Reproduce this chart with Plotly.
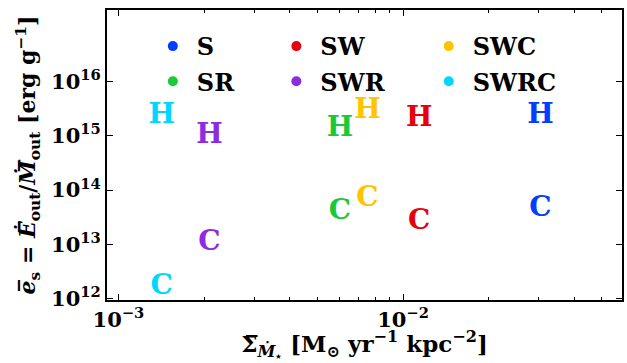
import plotly.graph_objects as go
import numpy as np

# ---- data ----
sims = ["S", "SW", "SWC", "SR", "SWR", "SWRC"]
colors = ["#023eff", "#e8000b", "#ffc400", "#1ac938", "#8b2be2", "#00d7ff"]
sigma_sfr = [3.04e-2, 1.14e-2, 7.5e-3, 6.0e-3, 2.09e-3, 1.42e-3]
es_hot = [2.33e15, 2.03e15, 2.89e15, 1.33e15, 1.0e15, 2.33e15]
es_cold = [4.47e13, 2.54e13, 6.83e13, 3.88e13, 1.04e13, 1.66e12]
legend_ids = ["legend", "legend2", "legend3", "legend", "legend2", "legend3"]

ytickvals = [1e12, 1e13, 1e14, 1e15, 1e16]
yticktext = ["10<sup>12</sup>", "10<sup>13</sup>", "10<sup>14</sup>", "10<sup>15</sup>", "10<sup>16</sup>"]
xtickvals = [1e-3, 1e-2]
xticktext = ["10<sup>−3</sup>", "10<sup>−2</sup>"]
xminor = [2e-3, 3e-3, 4e-3, 5e-3, 6e-3, 7e-3, 8e-3, 9e-3, 2e-2, 3e-2, 4e-2, 5e-2]

FONT = "DejaVu Serif"

fig = go.Figure()
for i, s in enumerate(sims):
    fig.add_trace(go.Scatter(
        x=[sigma_sfr[i], sigma_sfr[i]], y=[es_hot[i], es_cold[i]],
        mode="text", text=["H", "C"],
        textfont=dict(family=FONT, size=28, color=colors[i], weight="bold"),
        textposition="middle center", showlegend=False, hoverinfo="skip"))
    fig.add_trace(go.Scatter(
        x=[None], y=[None], mode="markers", name=s,
        marker=dict(size=10, color=colors[i]),
        legend=legend_ids[i], legendgroup=s, showlegend=True))

W, H = 627, 363
L, R, T, B = 107, 3, 10, 63
pw = W - L - R
ph = H - T - B

def px2x(px):
    return (px - L) / pw

def px2y(py):
    return 1 - (py - T) / ph

legfont = dict(family=FONT, size=24, color="black", weight="bold")
common_leg = dict(bgcolor="rgba(0,0,0,0)", borderwidth=0, font=legfont,
                  xanchor="left", yanchor="top", tracegroupgap=1,
                  itemwidth=38)

fig.update_layout(
    width=W, height=H,
    margin=dict(l=L, r=R, t=T, b=B),
    paper_bgcolor="white", plot_bgcolor="white",
    font=dict(family=FONT, color="black"),
    legend=dict(x=px2x(149), y=px2y(24), **common_leg),
    legend2=dict(x=px2x(273), y=px2y(24), **common_leg),
    legend3=dict(x=px2x(426), y=px2y(24), **common_leg),
    xaxis=dict(
        type="log", range=[np.log10(9.12e-4), np.log10(5.88e-2)],
        showline=True, linewidth=2, linecolor="black", mirror="ticks",
        ticks="inside", ticklen=6, tickwidth=1.2, tickcolor="black",
        tickvals=xtickvals, ticktext=xticktext,
        tickfont=dict(family=FONT, size=21, weight="bold"),
        minor=dict(tickvals=xminor, ticks="inside", ticklen=3, tickwidth=1, tickcolor="black"),
        showgrid=False, zeroline=False,
        title=dict(text="<b>Σ̅<sub><i>Ṁ</i><sub>⋆</sub></sub> [M<sub>⊙</sub> yr<sup>−1</sup> kpc<sup>−2</sup>]</b>",
                   font=dict(family=FONT, size=23), standoff=5),
    ),
    yaxis=dict(
        type="log", range=[11.975, 17.315],
        showline=True, linewidth=2, linecolor="black", mirror="ticks",
        ticks="inside", ticklen=6, tickwidth=1.2, tickcolor="black",
        tickvals=ytickvals, ticktext=yticktext,
        tickfont=dict(family=FONT, size=21, weight="bold"),
        showgrid=False, zeroline=False,
        title=dict(text="<b><i>e̅</i><sub>s</sub> = <i>Ė̅</i><sub>out</sub>/<i>Ṁ̅</i><sub>out</sub> [erg g<sup>−1</sup>]</b>",
                   font=dict(family=FONT, size=22), standoff=9),
    ),
)

fig.write_html("out.html")
